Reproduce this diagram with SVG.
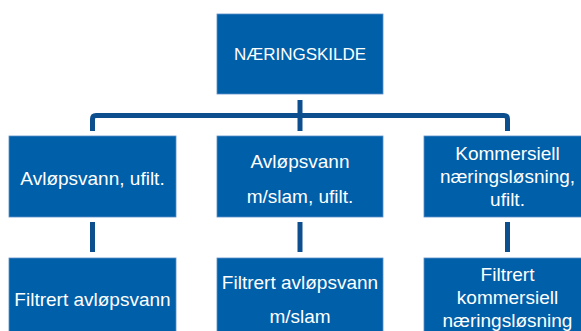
<svg xmlns="http://www.w3.org/2000/svg" width="581" height="331" viewBox="0 0 581 331">
<style>
.box{fill:#005FA9;stroke:#5A8FC8;stroke-width:0.8}
.t{fill:#ffffff;font-family:"Liberation Sans",Arial,sans-serif;font-size:19px;text-anchor:middle}
.top{font-size:17px}
.c{fill:none;stroke:#0D4E8E;stroke-width:5;stroke-linejoin:round}
</style>
<rect width="581" height="331" fill="#ffffff"/>
<g id="connectors">
<path class="c" d="M300,100 V131"/>
<path class="c" d="M92.5,131 V119 Q92.5,115.5 96,115.5 H504 Q507.5,115.5 507.5,119 V131"/>
<path class="c" d="M92.5,222 V252"/>
<path class="c" d="M300,222 V252"/>
<path class="c" d="M507.5,222 V252"/>
</g>
<g id="naeringskilde">
<rect class="box" x="217" y="14" width="166" height="80"/>
<text class="t top" x="300" y="60">NÆRINGSKILDE</text>
</g>
<g id="avlop-ufilt">
<rect class="box" x="9" y="136" width="167" height="81"/>
<text class="t" x="92.5" y="185">Avløpsvann, ufilt.</text>
</g>
<g id="avlop-slam-ufilt">
<rect class="box" x="217" y="136" width="166" height="81"/>
<text class="t" x="300" y="168">Avløpsvann</text>
<text class="t" x="300" y="203">m/slam, ufilt.</text>
</g>
<g id="kommersiell-ufilt">
<rect class="box" x="424" y="136" width="167" height="81"/>
<text class="t" x="507.5" y="160">Kommersiell</text>
<text class="t" x="507.5" y="183">næringsløsning,</text>
<text class="t" x="507.5" y="206">ufilt.</text>
</g>
<g id="filtrert-avlop">
<rect class="box" x="9" y="258" width="167" height="81"/>
<text class="t" x="92.5" y="306">Filtrert avløpsvann</text>
</g>
<g id="filtrert-avlop-slam">
<rect class="box" x="217" y="258" width="166" height="81"/>
<text class="t" x="300" y="289">Filtrert avløpsvann</text>
<text class="t" x="300" y="323">m/slam</text>
</g>
<g id="filtrert-kommersiell">
<rect class="box" x="424" y="258" width="167" height="81"/>
<text class="t" x="507.5" y="281">Filtrert</text>
<text class="t" x="507.5" y="304">kommersiell</text>
<text class="t" x="507.5" y="327">næringsløsning</text>
</g>
</svg>
